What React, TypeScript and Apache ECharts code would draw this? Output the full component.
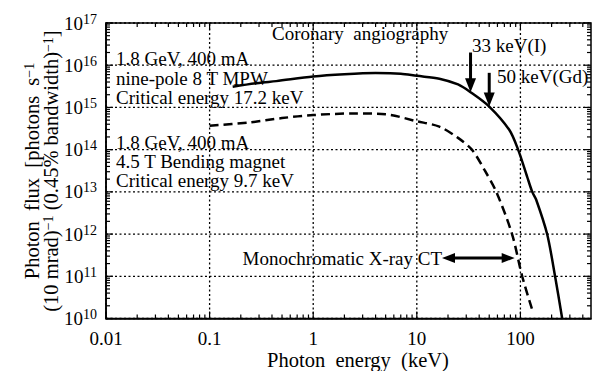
import React, { useEffect, useRef } from "react";
import * as echarts from "echarts";

const FONT = "'Liberation Serif', 'Times New Roman', serif";

// Axis extents and tick labels
const xExtent = [0.01, 480];
const yExtent = [1e10, 1e17];
const xTickValues = [0.01, 0.1, 1, 10, 100];
const xTickLabels = ["0.01", "0.1", "1", "10", "100"];
const yTickExponents = [10, 11, 12, 13, 14, 15, 16, 17];

// Nine-pole 8 T MPW (solid)
const mpwEnergy = [0.167, 0.3, 0.44, 1, 2, 4, 7, 10, 16.5, 25, 33, 50, 78, 95, 116, 130, 142, 181, 216, 253];
const mpwFlux = [3.1e15, 3.8e15, 4.2e15, 5.4e15, 6.1e15, 6.5e15, 6.3e15, 5.6e15, 4.8e15, 3.5e15, 2.3e15, 1.05e15, 2.95e14, 1e14, 2.3e13, 1e13, 6.5e12, 1e12, 1e11, 1e10];

// 4.5 T bending magnet (dashed)
const bmEnergy = [0.1, 0.24, 0.5, 1, 2.5, 5, 10, 16.5, 25, 34, 45, 58.5, 83, 104, 130];
const bmFlux = [3.7e14, 4.4e14, 5.6e14, 6.6e14, 7.2e14, 6.9e14, 4.7e14, 3.5e14, 1.9e14, 1e14, 3.3e13, 1e13, 1e12, 1e11, 1.6e10];

// Down arrows: [energy, flux at tail, flux at tip]
const downArrows = [
  [33, 2e16, 2.3e15],
  [50, 6.6e15, 1.05e15],
];
// Monochromatic X-ray CT range: [from energy, flux, to energy]
const ctArrow = [[17.5, 2.7e11, 88]];

export default function App() {
  const ref = useRef<HTMLDivElement>(null);
  useEffect(() => {
    document.body.style.margin = "0";
    const chart = echarts.init(ref.current!, null, { renderer: "svg" });

    // [x, y, kind] kind: 0 x-minor, 1 y-minor, 2 x-major, 3 y-major
    const tickData: number[][] = [];
    for (let k = -2; k <= 2; k++) {
      for (let m = 2; m <= 9; m++) {
        const v = m * Math.pow(10, k);
        if (v < xExtent[1]) tickData.push([v, yExtent[0], 0]);
      }
    }
    for (let k = 10; k <= 16; k++) {
      for (let m = 2; m <= 9; m++) {
        tickData.push([xExtent[0], m * Math.pow(10, k), 1]);
      }
    }
    xTickValues.forEach((v) => tickData.push([v, yExtent[0], 2]));
    yTickExponents.forEach((e) => tickData.push([xExtent[0], Math.pow(10, e), 3]));

    const txt = (text: string, x: number, y: number, align = "left", size = 19) => ({
      type: "text",
      x,
      y,
      style: { text, fill: "#000", font: `${size}px ${FONT}`, align, verticalAlign: "middle", lineHeight: size },
      z: 10,
    });

    const option: any = {
      animation: false,
      backgroundColor: "#fff",
      grid: {
        left: 106,
        right: 2,
        top: 23,
        bottom: 52.5,
        show: true,
        borderColor: "#000",
        borderWidth: 1.5,
      },
      xAxis: {
        type: "log",
        logBase: 10,
        min: xExtent[0],
        max: xExtent[1],
        splitNumber: 5,
        axisLine: { show: true, lineStyle: { color: "#000", width: 1.5 } },
        axisTick: { show: false },
        axisLabel: {
          color: "#000",
          fontSize: 19,
          fontFamily: FONT,
          margin: 10,
          formatter: (v: number) => {
            const i = xTickValues.findIndex((t) => Math.abs(Math.log10(t) - Math.log10(v)) < 1e-6);
            return i >= 0 ? xTickLabels[i] : "";
          },
        },
        splitLine: { show: false },
      },
      yAxis: {
        type: "log",
        logBase: 10,
        min: yExtent[0],
        max: yExtent[1],
        splitNumber: 7,
        axisLine: { show: true, lineStyle: { color: "#000", width: 1.5 } },
        axisTick: { show: false },
        axisLabel: {
          color: "#000",
          margin: 9,
          formatter: (v: number) => {
            const e = Math.round(Math.log10(v));
            return yTickExponents.includes(e) ? `{b|10}{s|${e}}` : "";
          },
          rich: {
            b: { fontSize: 19, fontFamily: FONT, color: "#000", lineHeight: 22 },
            s: { fontSize: 14, fontFamily: FONT, color: "#000", verticalAlign: "top", lineHeight: 14 },
          },
        },
        splitLine: { show: false },
      },
      series: [
        {
          type: "custom",
          data: tickData,
          encode: { x: 0, y: 1 },
          silent: true,
          renderItem: (params: any, api: any) => {
            const v0 = api.value(0);
            const v1 = api.value(1);
            const kind = api.value(2);
            const style = { stroke: "#000", lineWidth: 1.2 };
            const dot = { stroke: "#000", lineWidth: 1.3, lineDash: [2, 2.5] };
            if (kind === 0 || kind === 2) {
              const b = api.coord([v0, yExtent[0]]);
              const t = api.coord([v0, yExtent[1]]);
              const len = kind === 0 ? 4 : 7;
              const children: any[] = [
                { type: "line", shape: { x1: t[0], y1: t[1], x2: t[0], y2: t[1] + len }, style },
                { type: "line", shape: { x1: b[0], y1: b[1], x2: b[0], y2: b[1] - len }, style },
              ];
              if (kind === 2)
                children.push({ type: "line", shape: { x1: b[0], y1: b[1], x2: t[0], y2: t[1] }, style: dot });
              return { type: "group", children };
            } else {
              const l = api.coord([xExtent[0], v1]);
              const r = api.coord([xExtent[1], v1]);
              const len = kind === 1 ? 4 : 7;
              const children: any[] = [
                { type: "line", shape: { x1: r[0], y1: r[1], x2: r[0] - len, y2: r[1] }, style },
                { type: "line", shape: { x1: l[0], y1: l[1], x2: l[0] + len, y2: l[1] }, style },
              ];
              if (kind === 3)
                children.push({ type: "line", shape: { x1: l[0], y1: l[1], x2: r[0], y2: r[1] }, style: dot });
              return { type: "group", children };
            }
          },
          z: 1,
        },
        {
          type: "line",
          data: mpwEnergy.map((e, i) => [e, mpwFlux[i]]),
          showSymbol: false,
          smooth: 0.3,
          lineStyle: { color: "#000", width: 2.5 },
          z: 5,
        },
        {
          type: "line",
          data: bmEnergy.map((e, i) => [e, bmFlux[i]]),
          showSymbol: false,
          smooth: 0.3,
          lineStyle: { color: "#000", width: 2.5, type: [9, 5] },
          z: 5,
        },
        {
          type: "custom",
          data: downArrows,
          encode: { x: 0, y: 1 },
          silent: true,
          renderItem: (params: any, api: any) => {
            const e = api.value(0);
            const top = api.coord([e, api.value(1)]);
            const tip = api.coord([e, api.value(2)]);
            const hl = 14;
            const hw = 5.5;
            return {
              type: "group",
              children: [
                { type: "line", shape: { x1: top[0], y1: top[1], x2: tip[0], y2: tip[1] - hl + 2 }, style: { stroke: "#000", lineWidth: 3 } },
                {
                  type: "polygon",
                  shape: { points: [[tip[0] - hw, tip[1] - hl], [tip[0] + hw, tip[1] - hl], [tip[0], tip[1]]] },
                  style: { fill: "#000" },
                },
              ],
            };
          },
          z: 6,
        },
        {
          type: "custom",
          data: ctArrow,
          encode: { x: 0, y: 1 },
          silent: true,
          renderItem: (params: any, api: any) => {
            const a = api.coord([api.value(0), api.value(1)]);
            const b = api.coord([api.value(2), api.value(1)]);
            const hl = 13;
            const hw = 5;
            return {
              type: "group",
              children: [
                { type: "line", shape: { x1: a[0] + hl - 2, y1: a[1], x2: b[0] - hl + 2, y2: b[1] }, style: { stroke: "#000", lineWidth: 3 } },
                { type: "polygon", shape: { points: [[a[0], a[1]], [a[0] + hl, a[1] - hw], [a[0] + hl, a[1] + hw]] }, style: { fill: "#000" } },
                { type: "polygon", shape: { points: [[b[0], b[1]], [b[0] - hl, b[1] - hw], [b[0] - hl, b[1] + hw]] }, style: { fill: "#000" } },
              ],
            };
          },
          z: 6,
        },
      ],
      graphic: [
        txt("Coronary  angiography", 272, 33),
        txt("33 keV(I)", 472, 45),
        txt("50 keV(Gd)", 497, 76),
        txt("1.8 GeV, 400 mA", 116, 58),
        txt("nine-pole 8 T MPW", 116, 78),
        txt("Critical energy 17.2 keV", 116, 97),
        txt("1.8 GeV, 400 mA", 116, 142),
        txt("4.5 T Bending magnet", 116, 161),
        txt("Critical energy 9.7 keV", 116, 180),
        txt("Monochromatic X-ray CT", 442, 258, "right"),
        txt("Photon  energy  (keV)", 358, 360, "center", 20.5),
        {
          type: "text",
          x: 41,
          y: 171,
          rotation: Math.PI / 2,
          z: 10,
          style: {
            text: "{a|Photon  flux  [photons  s}{s|−1}\n{a|(10 mrad)}{s|−1}{a| (0.45% bandwidth)}{s|−1}{a|]}",
            align: "center",
            verticalAlign: "middle",
            fill: "#000",
            rich: {
              a: { fontSize: 20.5, fontFamily: FONT, fill: "#000", lineHeight: 19 },
              s: { fontSize: 14, fontFamily: FONT, fill: "#000", verticalAlign: "top", lineHeight: 12 },
            },
          },
        },
      ],
    };

    chart.setOption(option);
    return () => chart.dispose();
  }, []);
  return (
    <div
      ref={ref}
      style={{ position: "fixed", left: 0, top: 0, width: 594, height: 371, background: "#fff" }}
    />
  );
}
